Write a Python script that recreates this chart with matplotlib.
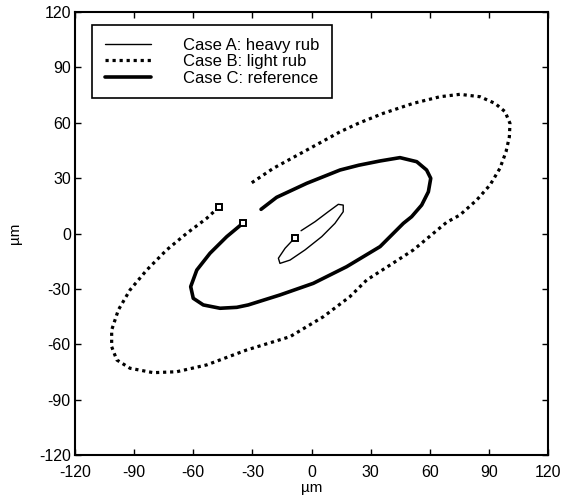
import matplotlib
matplotlib.use("Agg")
import matplotlib.pyplot as plt

plt.rcParams['font.family'] = ['Liberation Sans', 'DejaVu Sans']
plt.rcParams['axes.unicode_minus'] = False

# Case A: heavy rub (inner thin orbit), ends at marker
case_a_x = [-5.3, 1.8, 8.5, 13.6, 16.1, 16.1, 11.9, 5.2, -3.3, -10.9, -16.0, -16.8, -13.4, -8.4]
case_a_y = [1.5, 6.4, 11.8, 15.8, 15.4, 11.8, 5.5, -1.7, -8.9, -14.4, -16.2, -13.4, -8.0, -2.3]

# Case B: light rub (outer dotted orbit), ends at marker
case_b_x = [-30.3, -19.4, -2.4, 14.5, 24.0, 36.4, 51.6, 65.2, 75.3, 85.5, 93.1, 98.2,
            100.7, 100.4, 98.7, 95.6, 90.6, 83.8, 75.3, 68.6, 51.7, 40.0, 28.0, 19.5,
            6.0, -10.9, -32.9, -53.2, -68.4, -80.3, -92.1, -98.8, -101.4, -101.4,
            -98.0, -92.1, -83.6, -73.5, -63.3, -53.2, -46.8]
case_b_y = [27.5, 35.3, 45.2, 55.1, 59.8, 65.1, 70.5, 74.1, 75.4, 74.1, 70.5, 66.0,
            59.7, 52.4, 44.3, 35.3, 26.3, 18.1, 10.0, 6.1, -8.9, -17.0, -25.2, -34.2,
            -45.1, -55.9, -63.1, -71.2, -74.9, -75.4, -73.0, -68.5, -61.3, -52.3,
            -41.4, -30.6, -19.8, -8.9, 0.1, 8.2, 14.5]

# Case C: reference (medium thick orbit), ends at marker
case_c_x = [-25.6, -17.7, -2.4, 14.5, 24.0, 34.8, 44.9, 53.4, 58.4, 60.5, 59.3, 55.9,
            50.8, 46.6, 34.8, 17.8, 0.9, -16.0, -32.1, -37.9, -46.4, -54.9, -60.0,
            -61.3, -58.2, -51.5, -43.0, -34.9]
case_c_y = [13.1, 19.6, 27.2, 34.4, 37.0, 39.3, 41.1, 38.9, 34.4, 29.9, 22.6, 15.4,
            9.1, 5.5, -7.1, -18.0, -27.0, -33.3, -38.7, -40.0, -40.5, -38.7, -35.1,
            -28.8, -19.8, -10.7, -1.7, 5.5]

ticks = [-120, -90, -60, -30, 0, 30, 60, 90, 120]
labels = ["Case A: heavy rub", "Case B: light rub", "Case C: reference"]

fig = plt.figure(figsize=(5.63, 5.03), dpi=100)
ax = fig.add_axes([75/563, 1-455/503, 473/563, 443/503])

ax.plot(case_a_x, case_a_y, color='black', lw=1.0, label=labels[0],
        solid_joinstyle='round', solid_capstyle='round')
ax.plot(case_b_x, case_b_y, color='black', lw=2.3, linestyle=(0, (1, 1.2)), label=labels[1])
ax.plot(case_c_x, case_c_y, color='black', lw=2.6, label=labels[2],
        solid_joinstyle='round', solid_capstyle='round')

for xs, ys in [(case_a_x, case_a_y), (case_b_x, case_b_y), (case_c_x, case_c_y)]:
    ax.plot(xs[-1], ys[-1], marker='s', ms=5, mfc='white', mec='black', mew=1.4, ls='none')

ax.set_xlim(-120, 120)
ax.set_ylim(-120, 120)
ax.set_xticks(ticks)
ax.set_yticks(ticks)
ax.set_xticklabels([str(t) for t in ticks])
ax.set_yticklabels([str(t) for t in ticks])
ax.tick_params(direction='in', top=True, right=True, labelsize=11.5, length=4, width=1)
ax.tick_params(axis='x', pad=7)
ax.tick_params(axis='y', pad=3)
for s in ax.spines.values():
    s.set_linewidth(1.5)
ax.set_xlabel("µm", fontsize=11, labelpad=1)
ax.set_ylabel("µm", fontsize=11, labelpad=12)

leg = ax.legend(loc='upper left', bbox_to_anchor=(17/473, (455-25)/443), fontsize=12,
                frameon=True, fancybox=False, edgecolor='black', handlelength=2.8,
                handletextpad=1.9, borderpad=0.75, labelspacing=0.1, borderaxespad=0)
leg.get_frame().set_linewidth(1.2)
leg.get_frame().set_alpha(1)

fig.savefig("out.png", dpi=100)
